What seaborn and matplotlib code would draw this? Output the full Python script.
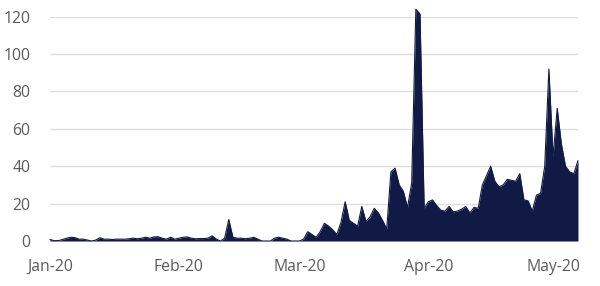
import numpy as np
import pandas as pd
import matplotlib
matplotlib.use("Agg")
import matplotlib.pyplot as plt
import matplotlib.dates as mdates
import seaborn as sns

start_date = "2020-01-01"
end_date = "2020-05-07"

jan_vals = [0.8, 0.2, 0.2, 0.8, 1.5, 2, 1.8, 1, 1, 0.5, 0, 0.5, 1.8, 1, 1, 0.8,
            1, 1, 1, 1.2, 1.5, 1.2, 1.5, 2, 1.5, 2.2, 2.3, 1.5, 1, 2, 1]
feb_vals = [1.5, 2, 2.2, 1.5, 1.2, 1.3, 1.3, 1.5, 2.8, 1, 0, 1.5, 11.5, 2, 1.5,
            1.5, 1.2, 1.5, 2, 1, 0, 0, 0, 1.5, 2, 1.5, 1, 0, 0]
mar_vals = [0, 1, 5, 3.5, 2, 5, 9.5, 8, 6, 3.5, 10, 21, 11, 9.5, 8, 18.5, 10.5,
            13, 17.5, 15, 11, 6.5, 37, 39, 30, 26.5, 18, 31, 124, 121.5, 17.5]
apr_vals = [21, 22, 19, 16.5, 16, 18.5, 15.6, 16, 17, 18.5, 15, 18, 17.5, 30,
            35, 40, 32, 29, 30, 33, 32.5, 32, 36, 22, 21.5, 16, 24.5, 25.5, 40, 92]
may_vals = [45, 71, 52, 40, 37, 36, 43]

values = jan_vals + feb_vals + mar_vals + apr_vals + may_vals
dates = pd.date_range(start_date, end_date, freq="D")
df = pd.DataFrame({"date": dates, "value": values})

y_ticks = [0, 20, 40, 60, 80, 100, 120]
x_ticks = ["2020-01-01", "2020-02-01", "2020-03-01", "2020-04-01", "2020-05-01"]

navy = "#111a44"

sns.set_theme(style="white")
plt.rcParams['font.family'] = ['Open Sans', 'DejaVu Sans']

fig = plt.figure(figsize=(6.0, 2.86), dpi=100)
ax = fig.add_axes([0.0833, 0.1573, 0.88, 0.7843])

sns.lineplot(data=df, x="date", y="value", ax=ax, color=navy, linewidth=0.8,
             clip_on=False)
ax.fill_between(df["date"], 0, df["value"], color=navy, linewidth=0, clip_on=False)

ax.set_xlim(pd.Timestamp(start_date), pd.Timestamp(end_date))
ax.set_ylim(0, 120)
ax.set_yticks(y_ticks)
ax.set_xticks([pd.Timestamp(t) for t in x_ticks])
ax.xaxis.set_major_formatter(mdates.DateFormatter("%b-%y"))

ax.grid(axis="y", color="#dedede", linewidth=1)
ax.grid(axis="x", visible=False)
ax.set_axisbelow(True)
for s in ax.spines.values():
    s.set_visible(False)
ax.tick_params(axis="both", length=0, labelsize=11.3, labelcolor="#5a5a5a")
ax.tick_params(axis="y", pad=14)
ax.tick_params(axis="x", pad=13)
ax.set_xlabel("")
ax.set_ylabel("")

fig.savefig("out.png", dpi=100)
